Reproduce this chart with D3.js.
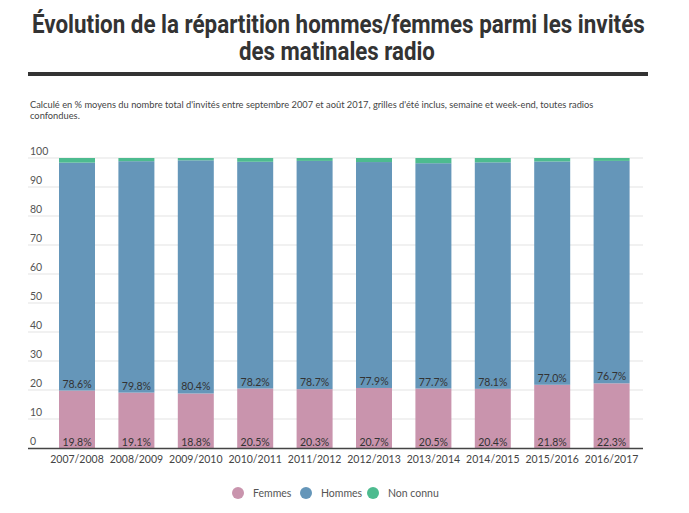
<!DOCTYPE html>
<html><head><meta charset="utf-8">
<script src="https://cdn.jsdelivr.net/npm/d3@7"></script>
<style>
body{margin:0;background:#fff;}
svg{display:block;}
</style></head>
<body><svg id="c" width="689" height="513"></svg>
<script>
const categories = ["2007/2008","2008/2009","2009/2010","2010/2011","2011/2012","2012/2013","2013/2014","2014/2015","2015/2016","2016/2017"];
const femmes = [19.8,19.1,18.8,20.5,20.3,20.7,20.5,20.4,21.8,22.3];
const hommes = [78.6,79.8,80.4,78.2,78.7,77.9,77.7,78.1,77.0,76.7];
const nonConnu = [1.6,1.1,0.8,1.3,1.0,1.4,1.8,1.5,1.2,1.0];
const seriesNames = ["Femmes","Hommes","Non connu"];
const yTicks = [0,10,20,30,40,50,60,70,80,90,100];
const colors = ["#c994ad","#6596b9","#4dbb8f"];

const svg = d3.select("#c");
const titleFont = "Roboto,'DejaVu Sans',sans-serif";
const bodyFont = "Lato,'Open Sans',sans-serif";

function titleLine(txt, xLeft, yBase, width){
  const t = svg.append("text").attr("x",0).attr("y",0)
    .attr("font-family",titleFont).attr("font-weight","bold").attr("font-size",25).attr("fill","#333")
    .text(txt);
  const w = t.node().getComputedTextLength();
  t.attr("transform",`translate(${xLeft},${yBase}) scale(${width/w},1.04)`);
}
titleLine("Évolution de la répartition hommes/femmes parmi les invités", 32, 33, 613);
titleLine("des matinales radio", 239, 60, 196);
svg.append("rect").attr("x",28).attr("y",72).attr("width",620).attr("height",4).attr("fill","#333");

const sub = svg.append("text").attr("font-family",bodyFont).attr("font-size",9.3).attr("fill","#444");
sub.append("tspan").attr("x",30).attr("y",108).text("Calculé en % moyens du nombre total d'invités entre septembre 2007 et août 2017, grilles d'été inclus, semaine et week-end, toutes radios");
sub.append("tspan").attr("x",30).attr("y",119).text("confondues.");

const y = d3.scaleLinear().domain([0,100]).range([448,158]);
const x = d3.scaleBand().domain(categories).range([29.3,659.3]).paddingInner(0.394).paddingOuter(0.5);

// grid
const g = svg.append("g");
g.selectAll("line.grid").data(yTicks.filter(d=>d>0)).join("line")
  .attr("x1",28).attr("x2",643).attr("y1",d=>y(d)).attr("y2",d=>y(d))
  .attr("stroke","#e3e3e3").attr("stroke-width",1);
g.selectAll("text.yl").data(yTicks).join("text")
  .attr("x",30).attr("y",d=>y(d)-3).attr("font-family",bodyFont).attr("font-size",10.5).attr("fill","#555")
  .text(d=>d);

const data = categories.map((c,i)=>({cat:c, Femmes:femmes[i], Hommes:hommes[i], "Non connu":nonConnu[i]}));
const stack = d3.stack().keys(seriesNames)(data);
svg.append("g").selectAll("g").data(stack).join("g").attr("fill",(d,i)=>colors[i])
  .selectAll("rect").data(d=>d).join("rect")
  .attr("x",d=>x(d.data.cat)).attr("width",x.bandwidth())
  .attr("y",d=>y(d[1])).attr("height",d=>y(d[0])-y(d[1]));

// axis line
svg.append("line").attr("x1",28).attr("x2",643).attr("y1",448.5).attr("y2",448.5).attr("stroke","#444").attr("stroke-width",1.5);

// value labels
const lab = svg.append("g").attr("font-family",bodyFont).attr("font-size",10.5).attr("fill","#333").attr("text-anchor","middle");
lab.selectAll("text.f").data(data).join("text").attr("class","f")
  .attr("x",d=>x(d.cat)+x.bandwidth()/2).attr("y",446).text(d=>d.Femmes.toFixed(1)+"%");
lab.selectAll("text.h").data(data).join("text").attr("class","h")
  .attr("x",d=>x(d.cat)+x.bandwidth()/2).attr("y",d=>y(d.Femmes)-3).text(d=>d.Hommes.toFixed(1)+"%");

// category labels
svg.append("g").selectAll("text").data(categories).join("text")
  .attr("x",d=>x(d)+x.bandwidth()/2).attr("y",463).attr("text-anchor","middle")
  .attr("font-family",bodyFont).attr("font-size",10.5).attr("fill","#444").text(d=>d);

// legend
const legX = [238,306,373];
const leg = svg.append("g").selectAll("g").data(seriesNames).join("g")
  .attr("transform",(d,i)=>`translate(${legX[i]},493)`);
leg.append("circle").attr("r",6).attr("fill",(d,i)=>colors[i]);
leg.append("text").attr("x",15).attr("y",4).attr("font-family",bodyFont).attr("font-size",10.5).attr("fill","#555").text(d=>d);
</script></body></html>
